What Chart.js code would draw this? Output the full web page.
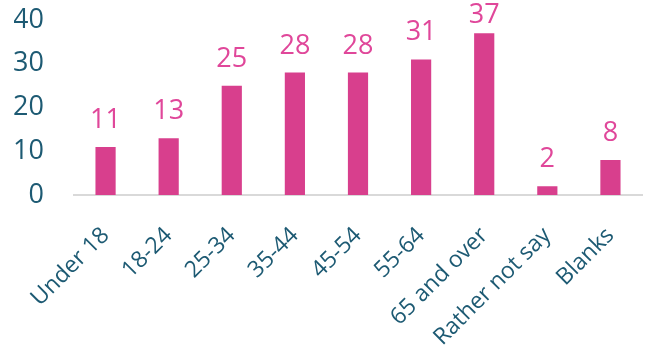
<!DOCTYPE html>
<html>
<head>
<meta charset="utf-8">
<script src="https://cdn.jsdelivr.net/npm/chart.js@4"></script>
<style>
  html, body { margin: 0; padding: 0; background: #fff; }
  #wrap { width: 648px; height: 354px; }
</style>
</head>
<body>
<div id="wrap"><canvas id="chart"></canvas></div>
<script>
const categories = ['Under 18', '18-24', '25-34', '35-44', '45-54', '55-64', '65 and over', 'Rather not say', 'Blanks'];
const counts = [11, 13, 25, 28, 28, 31, 37, 2, 8];
const yTicks = [0, 10, 20, 30, 40];

// etykiety wartości nad słupkami
const valueLabels = {
    id: 'valueLabels',
    afterDatasetsDraw(chart) {
        const ctx = chart.ctx;
        const meta = chart.getDatasetMeta(0);
        ctx.save();
        ctx.font = '27px "Open Sans"';
        ctx.fillStyle = '#e0479a';
        ctx.textAlign = 'center';
        ctx.textBaseline = 'alphabetic';
        meta.data.forEach((bar, i) => {
            let y = bar.y - 19;
            if (y < 23) y = 23;
            ctx.fillText(String(counts[i]), bar.x, y);
        });
        ctx.restore();
    }
};

const ctx = document.getElementById('chart').getContext('2d');
new Chart(ctx, {
    type: 'bar',
    data: {
        labels: categories,
        datasets: [{
            data: counts,
            backgroundColor: '#d83f8d',
            categoryPercentage: 1,
            barPercentage: 0.32
        }]
    },
    options: {
        responsive: true,
        maintainAspectRatio: false,
        animation: false,
        layout: { padding: { left: 14, right: 6, top: 20, bottom: 0 } },
        plugins: { legend: { display: false }, tooltip: { enabled: false } },
        scales: {
            x: {
                grid: { display: false, drawTicks: false },
                border: { display: true, color: '#d9d9d9', width: 2 },
                ticks: {
                    color: '#1d5a73',
                    font: { family: 'Open Sans', size: 23 },
                    minRotation: 45,
                    maxRotation: 45,
                    padding: 27
                },
                afterFit(scale) {
                    scale.paddingLeft = 0;
                    scale.paddingRight = 0;
                    scale.height = 159;
                }
            },
            y: {
                min: 0,
                max: 40,
                afterBuildTicks(axis) { axis.ticks = yTicks.map(v => ({ value: v })); },
                grid: { display: false, drawTicks: false },
                border: { display: false },
                ticks: {
                    color: '#1d5a73',
                    font: { family: 'Open Sans', size: 27 },
                    padding: 30
                },
                afterFit(scale) {
                    scale.paddingTop = 0;
                    scale.paddingBottom = 0;
                    scale.width = 60;
                }
            }
        }
    },
    plugins: [valueLabels]
});
</script>
</body>
</html>
